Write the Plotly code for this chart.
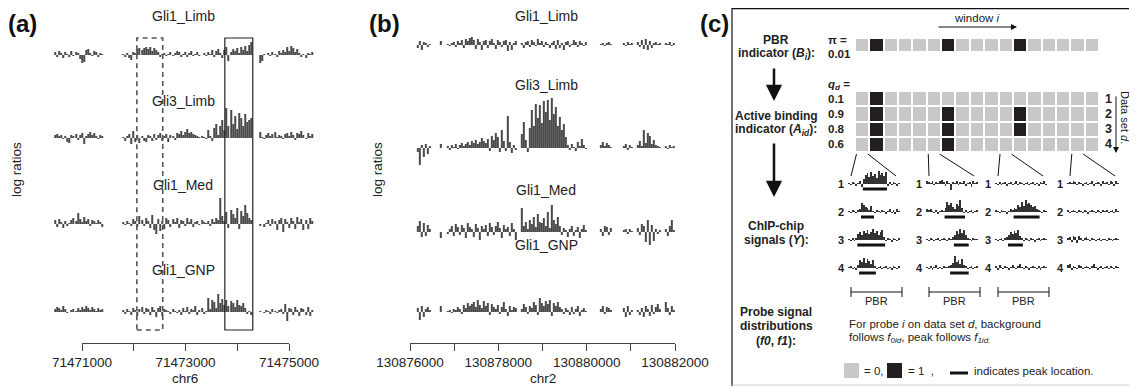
import numpy as np
import plotly.graph_objects as go

# reference canvas (design coordinates) and page offset of the plot div
W, H = 1137, 388
OFF = 8
FW, FH = W - OFF, H - OFF
FONT = "Liberation Sans, Arial, Helvetica, sans-serif"
TXT = "#222222"
BAR = "#4a4a4a"

# ====================== DATA ======================
TRACK_NAMES = ["Gli1_Limb", "Gli3_Limb", "Gli1_Med", "Gli1_GNP"]

# ---- panel (a): chr6 ----
A_SEGMENTS = [(71470480, 71471400), (71471795, 71474275), (71474445, 71475445)]
A_STEP = 40
A_TICKS = [71471000, 71472000, 71473000, 71474000, 71475000]
A_TICKTEXT = ["71471000", "", "71473000", "", "71475000"]
A_DASHED_REGION = [71472060, 71472560]
A_PEAK_REGION = [71473760, 71474300]

A_GLI1_LIMB = [3, -2, 4, 2, -3, 3, 1, -2, 4, -1, 3, 2, -4, -8, -7, 5, 6, 2, -1, 4, 3, -2, 2, 1,
               1, -2, 2, -3, -5, 3, 2, 6, 7, 5, 7, 8, 6, 8, 4, 7, 5, 3, -2,
               1, 2, -1, 1, 3, -1, 2, 4, 3, -2, 1, 3, -2, 2, 4, -1, 1, 3, -1, 0, 2, -1,
               3, 1, 5, -2, 4, 6, 2, -3, 5, 8, -6, 3, 6, 4, 7, 2, 8, 5, 9, 4, 10, 13,
               -8, -6, 1, 0, 2, -1, 3, 1, -2, 4, 2, 5, 3, 8, 4, 9, 7, 3, 6, 2, -2, 1, -3, 2, 1, 3]
A_GLI3_LIMB = [3, 4, 2, 3, -1, 2, -4, -5, 3, 2, 4, -2, 3, 5, -6, 2, 4, 6, 3, 5, 2, -1, 3, 2,
               1, -3, 2, 4, -6, 7, -4, 3, -5,
               2, -3, -4, 3, 2, -3, 4, -2, 3, 5, -3, 2, 4, -4, 3, 2, -2,
               5, 4, 7, 3, 6, 9, 5, 6, 4, 3, 2, 1, 2, 1, -1,
               8, 2, -3, 10, 14, 3, 12, 18, 8, 30, 12, 28, 14, 22, 9, 25, 20, 12, 24, 16, 18, 20,
               6, 1, -1, 3, 5, 2, 4, 6, 1, 3, 2, -1, 4, 5, 2, 6, 3, -2, 5, 4, 7, 3, -1, 5, 2, 4]
A_GLI1_MED = [4, -3, 5, 2, -4, 3, -2, 1, 4, 6, 3, 11, 5, 2, 7, 3, 5, -2, 4, 3, 1, 4, 2, -3,
              2, -1, 3, 1, -2, 5, 3, -3, 8, 4, -2, 6, 3,
              -4, 9, -6, -10, 5, -7, 3, -5, 6, 4, -3, 5, 2,
              6, -4, 4, 3, -2, 6, 2, 5, -3, 2, 3, -1, 4, 2, 1,
              3, -2, 5, 2, 6, 4, 26, 8, 3, 12, -4, 14, 10, 6, 16, -5, 13, 8, 19, 11, 6, 4,
              -2, 0, -3, 1, 4, -2, 5, 3, -6, 4, 6, -8, 5, 2, -4, 6, 3, -5, 7, 2, 5, -6, 4, -5, 6, 3]
A_GLI1_GNP = [3, 5, 4, 2, 6, 3, -1, 0, 2, 3, 1, 4, 2, 5, 3, 6, 4, 2, 5, 3, 1, 4, 2, 3,
              2, -2, 3, 1, -3, 4, 2, -4, 3, 5, -2, 4, 3, -3, 5, 2, -5, 4, 6, -4, 3,
              2, 1, -2, 3, 1, -1, 2, -3, 4, 1, 5, -2, 3, 2, 6, -3, 2, 4, -2, 1,
              14, 3, 12, 10, 4, 18, 9, 13, 7, 12, 6, 11, 9, 5, 12, 7, 6, 9, 4, -2, 1, -3,
              1, 0, -1, 2, 1, -2, 3, 1, -1, 2, 3, -2, 8, -9, 4, 3, -3, 5, 2, -4, 4, 3, -3, 5, -4, 2]

# ---- panel (b): chr2 ----
B_SEGMENTS = [(130876180, 130876450), (130876700, 130876700), (130876860, 130878390),
              (130878540, 130879980), (130880325, 130880550), (130880850, 130881030),
              (130881165, 130881660), (130881795, 130881975)]
B_STEP = 45
B_TICKS = [130876000, 130877000, 130878000, 130879000, 130880000, 130881000, 130882000]
B_TICKTEXT = ["130876000", "", "130878000", "", "130880000", "", "130882000"]

B_GLI1_LIMB = [-3, 4, -5, 3, 2, -2, 1,
               4,
               1, -1, 2, 3, -2, 4, 2, 5, -3, 6, 4, 7, 8, 5, -4, 6, 3, -5, 4, 5, -3, 4, 6, 2, -4, 5, 3, -2, 4, 5, -6, 3, -5, 2, 4,
               2, -3, 3, 4, -2, 5, 3, -1, 6, 2, 4, -2, 3, 1, -3, 2, 4, -4, 5, -3, 2, -5, 3, 4, -2, 1, 5, 3, -2, 4, 2, -1, 3,
               1, 2, -1, 2, 3, 1,
               2, -1, 3, 1, 2,
               3, -2, 5, -4, 6, -5, 4, -3, 2, 3, 1, 2,
               2, 1, 3, -1, 2]
B_GLI3_LIMB = [-4, -17, 3, -9, 4, -6, 2,
               4,
               2, -2, 3, 1, 4, -1, 3, 5, 2, 4, 6, 3, 7, 5, 8, 4, 6, 10, 7, 5, 9, -3, 12, 8, 15, 11, -4, 18, 7, -3, 32, 6, -5, 3, -2,
               14, 26, 8, -4, 20, 38, 22, 44, 30, 43, 25, 47, 36, 48, 28, 50, 34, 41, 22, 31, 18, 24, 11, 3, -2, 4, 1, -3, 6, 2, 9, 3, -1,
               3, 6, 2, 5, 3, 1,
               2, 4, -2, 3, 1,
               3, 7, 2, 18, 5, 15, 12, 4, 8, 3, 2, 1,
               2, -1, 3, 1, 2]
B_GLI1_MED = [6, 11, -5, 9, -4, 7, 3,
              -6,
              -2, 3, 6, -4, 8, 5, -3, 7, 4, -6, 9, 5, 3, -5, 8, 4, -8, 6, 3, 7, -4, 9, 5, -3, 6, 10, 4, -6, 7, 3, 5, -4, 9, 3, -8,
              24, 6, 10, 3, 12, 8, 15, 5, 18, 10, 9, 14, 6, 20, 4, 27, 12, 8, 15, 6, -3, 4, 2, -5, 3, 6, -4, 2, 5, -6, 3, 7, 2,
              3, -4, 6, 5, -3, 4,
              2, 3, -2, 3, 1,
              4, -3, 8, 6, -10, 12, -13, 7, -9, 3, -2, 2,
              3, -4, 6, 12, 2]
B_GLI1_GNP = [4, -8, 6, -5, 3, 5, 2,
              6,
              1, 2, -1, 3, 2, 5, 3, -2, 7, 4, 9, 6, 8, 10, 5, 12, 7, 4, 11, 6, 9, -3, 8, 5, 3, 7, -2, 5, 10, 3, -4, 6, 2, 5, 4,
              3, 8, 5, -2, 6, 4, 10, 7, -3, 14, 9, 6, 11, 8, 12, -4, 9, 6, 10, 5, 3, -2, 4, 2, -3, 5, -2, 3, 6, -4, 2, 4, 1,
              3, 6, -2, 5, 4, 2,
              4, -5, 6, -3, 2,
              2, -3, 4, -5, 6, 3, -4, 7, -2, 5, 8, 3,
              10, 4, -3, 6, 2]

# ---- panel (c): indicators ----
PI_VALUE = "0.01"
QD_VALUES = ["0.1", "0.9", "0.8", "0.6"]
PBR_INDICATOR = [0, 1, 0, 0, 0, 0, 1, 0, 0, 0, 0, 1, 0, 0, 0, 0, 0]
ACTIVE_INDICATOR = [[0, 1, 0, 0, 0, 0, 0, 0, 0, 0, 0, 0, 0, 0, 0, 0, 0],
                    [0, 1, 0, 0, 0, 0, 1, 0, 0, 0, 0, 1, 0, 0, 0, 0, 0],
                    [0, 1, 0, 0, 0, 0, 1, 0, 0, 0, 0, 1, 0, 0, 0, 0, 0],
                    [0, 1, 0, 0, 0, 0, 1, 0, 0, 0, 0, 0, 0, 0, 0, 0, 0]]
ZOOM_WINDOWS = [1, 6, 11, 16]

# mini ChIP-chip signals, one list per window, rows = data sets 1..4
MINI_W1 = [[1, -1, 2, 1, -2, 1, 3, -3, 5, 9, 11, 7, 12, 8, 10, 6, 13, 9, 11, 8, 12, -2, 2, -1, 2, 1, -2, 1],
           [1, -1, 2, 1, -1, 2, 3, 9, 7, 5, 4, 2, 6, 1, -1, 2, 1, -1, 2, 1, -2, 1, 3, -1, 2, -2, 3, 1],
           [1, -1, 2, -1, 2, 6, 8, 5, 9, 7, 10, 6, 8, 11, 7, 9, 5, 8, 10, 3, -1, 2, 1, -2, 2, 1, -1, 2],
           [1, 2, -1, 1, -2, 3, 8, 6, 10, 5, 9, 7, 4, 8, 2, -1, 1, 2, -1, 1, 2, -1, 1, -2, 2, 1, -1, 2]]
MINI_W6 = [[3, 2, 1, 3, -1, 2, 1, 3, 4, 2, -2, 3, 1, -6, 2, 1, 3, -1, 2, 1, 3, -2, 1, 2, -3, 3, 1, 2],
           [3, 2, 3, 1, -1, 2, -2, 1, 2, 1, 4, 10, 7, 9, 5, 3, 8, 6, 12, 4, -1, 2, -1, 1, 2, -1, 1, 2],
           [1, -1, 2, 1, -1, 1, 2, -1, 1, 2, 1, -1, 2, 1, 3, 5, 9, 6, 11, 7, 10, 5, 2, 1, -1, 2, 1, 1],
           [1, -1, 2, -2, 1, 3, -1, 1, -1, 2, 1, 1, 2, 3, 5, 12, 6, 8, 4, 9, 3, 2, -1, 1, 2, -1, 1, 2]]
MINI_W11 = [[1, -1, 2, -1, 1, 2, -2, 1, 2, -1, 1, 3, -1, 2, 1, -1, 1, 2, -1, 1, 2, -1, 1, -2, 2, 1, 3, -1],
            [2, 1, -1, 2, 1, 1, -2, 1, 3, 2, 4, 3, 7, 5, 10, 6, 12, 8, 9, 7, 5, 6, 3, 2, 1, -1, 2, 1],
            [1, -1, 1, 2, -1, 2, 3, 5, 8, 6, 9, 7, 10, 4, 2, -1, 2, 1, -1, 2, 1, -2, 1, 2, -1, 1, 2, 1],
            [2, -2, 3, 1, -1, 2, 1, -2, 1, 3, 1, -1, 2, 4, 1, -1, 2, 1, -2, 1, 2, 1, -1, 2, -2, 1, 2, 1]]
MINI_W16 = [[1, 2, 1, 3, 2, -1, 2, 1, -2, 1, 2, -1, 1, 3, -2, 1, 2, 1, -2, 3, 1, 2, -1, 3, 2, -2, 3, 1],
            [2, -1, 1, 2, 1, -1, 2, 1, -1, 2, 1, -2, 1, 2, 1, -1, 2, 1, -1, 2, 1, 2, -1, 1, 2, -1, 3, 1],
            [2, 3, -2, 4, 3, -3, 4, 2, -1, 2, 3, 1, -1, 2, 1, -1, 1, 2, -1, 1, 1, -1, 2, 1, -1, 1, 2, 1],
            [3, 4, -2, 2, 1, -1, 3, 2, -1, 1, 2, 1, -1, 2, 4, 1, -2, 1, 2, -1, 1, 2, -1, 2, 1, -1, 2, 1]]
# peak location (first probe, last probe) per window / data set, None = no peak
PEAKS_W1 = [(8, 20), (7, 13), (5, 19), (6, 14)]
PEAKS_W6 = [None, (10, 20), (15, 22), (13, 22)]
PEAKS_W11 = [None, (10, 23), (7, 14), None]
PEAKS_W16 = [None, None, None, None]

# ====================== FIGURE ======================
layout = dict(width=FW, height=FH, template="none",
              margin=dict(l=0, r=0, t=0, b=0, pad=0, autoexpand=False),
              paper_bgcolor="white", plot_bgcolor="rgba(0,0,0,0)", showlegend=False,
              font=dict(family=FONT, color=TXT), annotations=[], shapes=[])
traces = []
_n = [0]


def fx(xpx):
    return (xpx - OFF) / FW


def fy(ypx):
    return 1 - (ypx - OFF) / FH


def P(xpx, ypx):
    return fx(xpx), fy(ypx)


def new_axes(x0, x1, xrange, ytop, ybot, yrange, xextra=None, yextra=None):
    _n[0] += 1
    n = _n[0]
    xr, yr = ("x", "y") if n == 1 else (f"x{n}", f"y{n}")
    xk, yk = ("xaxis", "yaxis") if n == 1 else (f"xaxis{n}", f"yaxis{n}")
    xa = dict(domain=[fx(x0), fx(x1)], range=xrange, anchor=yr, visible=False, automargin=False,
              showgrid=False, zeroline=False, fixedrange=True)
    ya = dict(domain=[fy(ybot), fy(ytop)], range=yrange, anchor=xr, visible=False, automargin=False,
              showgrid=False, zeroline=False, fixedrange=True)
    if xextra:
        xa.update(xextra)
    if yextra:
        ya.update(yextra)
    layout[xk] = xa
    layout[yk] = ya
    return xr, yr


def text(xpx, ypx, s, size=13, xanchor="center", angle=0, color=TXT, yanchor="middle"):
    x, y = P(xpx, ypx)
    layout["annotations"].append(dict(x=x, y=y, xref="paper", yref="paper", text=s, showarrow=False,
                                      font=dict(size=size, color=color, family=FONT), borderpad=0,
                                      xanchor=xanchor, yanchor=yanchor, textangle=angle))


def line(x0, y0, x1, y1, color="#111111", width=1, dash=None):
    a, b = P(x0, y0)
    c, d = P(x1, y1)
    ln = dict(color=color, width=width)
    if dash:
        ln["dash"] = dash
    layout["shapes"].append(dict(type="line", xref="paper", yref="paper", x0=a, y0=b, x1=c, y1=d, line=ln))


def arrow(hx, hy, tx, ty, width=1, size=1, color="#111111"):
    x, y = P(hx, hy)
    layout["annotations"].append(dict(x=x, y=y, xref="paper", yref="paper", text="", showarrow=True,
                                      ax=tx - hx, ay=ty - hy, arrowhead=2, arrowwidth=width,
                                      arrowsize=size, arrowcolor=color, standoff=0, startstandoff=0))


def positions(segments, step):
    out = []
    for s, e in segments:
        out.extend(np.arange(s, e + 1, step).tolist())
    return np.array(out)


def genomic_panel(tracks, segs, step, axis_px, axis_vals, ticks, ticktext, baselines, title_pos,
                  chrom, chrom_pos):
    px0, px1 = axis_px
    v0, v1 = axis_vals
    scale = (px1 - px0) / (v1 - v0)
    full = [v0 - 1000, v1 + 1000]
    dom = [px0 - 1000 * scale, px1 + 1000 * scale]
    pos = positions(segs, step)
    first_x = None
    for vals, base, (tx, ty), name in zip(tracks, baselines, title_pos, TRACK_NAMES):
        assert len(vals) == len(pos), (name, len(vals), len(pos))
        up = min(55, base - OFF)
        xr, yr = new_axes(dom[0], dom[1], full, base - up, base + 20, [-20, up])
        if first_x is None:
            first_x = xr
        traces.append(go.Bar(x=pos, y=vals, width=step * 0.5, xaxis=xr, yaxis=yr,
                             marker=dict(color=BAR, line=dict(width=0)), hoverinfo="skip"))
        text(tx, ty, name, size=14)
    # genomic axis
    xr, yr = new_axes(px0, px1, [v0, v1], 340, 343, [0, 1],
                      xextra=dict(visible=True, showline=True, linecolor="#444444", linewidth=1,
                                  ticks="outside", ticklen=7, tickcolor="#444444", tickwidth=1,
                                  tickvals=ticks, ticktext=ticktext,
                                  tickfont=dict(size=13.5, color=TXT, family=FONT)))
    traces.append(go.Scatter(x=[v0], y=[0.5], mode="markers", marker=dict(opacity=0),
                             xaxis=xr, yaxis=yr, hoverinfo="skip"))
    text(chrom_pos[0], chrom_pos[1], chrom, size=13.5)
    return first_x


# ---------- panel (a) ----------
ax_a = genomic_panel([A_GLI1_LIMB, A_GLI3_LIMB, A_GLI1_MED, A_GLI1_GNP], A_SEGMENTS, A_STEP,
                     (82, 289), (71471000, 71475000), A_TICKS, A_TICKTEXT,
                     [55, 138, 224, 312], [(183, 16), (183, 101), (183, 185), (183, 270)],
                     "chr6", (185, 378))
y_top, y_bot = fy(38), fy(330)
layout["shapes"].append(dict(type="rect", xref=ax_a, yref="paper", x0=A_DASHED_REGION[0],
                             x1=A_DASHED_REGION[1], y0=y_bot, y1=y_top,
                             line=dict(color="#555555", width=1.6, dash="5px,4px")))
layout["shapes"].append(dict(type="rect", xref=ax_a, yref="paper", x0=A_PEAK_REGION[0],
                             x1=A_PEAK_REGION[1], y0=y_bot, y1=y_top,
                             line=dict(color="#222222", width=1.2)))
text(22, 9, "<b>(a)</b>", size=24, color="#111111", yanchor="top")
text(16, 170, "log ratios", size=13.5, angle=-90)

# ---------- panel (b) ----------
genomic_panel([B_GLI1_LIMB, B_GLI3_LIMB, B_GLI1_MED, B_GLI1_GNP], B_SEGMENTS, B_STEP,
              (410, 675), (130876000, 130882000), B_TICKS, B_TICKTEXT,
              [45, 148, 232, 312], [(546, 16), (546, 85), (546, 190), (546, 245)],
              "chr2", (543, 378))
text(384, 9, "<b>(b)</b>", size=24, color="#111111", yanchor="top")
text(377, 170, "log ratios", size=13.5, angle=-90)

# ---------- panel (c) ----------
text(714, 9, "<b>(c)</b>", size=24, color="#111111", yanchor="top")
line(732, 8.6, 1137, 8.6, color="#111111", width=1.2)
line(732, 8, 732, 386, color="#111111", width=1.2)
line(732, 385, 1137, 385, color="#cccccc", width=1)

LX = 776
text(LX, 40, "<b>PBR</b>", size=12)
text(LX, 54, "<b>indicator (<i>B<sub>i</sub></i>):</b>", size=12)
arrow(774, 101, 774, 67, width=2.5, size=1.3)
text(LX, 116, "<b>Active binding</b>", size=12)
text(LX, 130, "<b>indicator (<i>A<sub>id</sub></i>):</b>", size=12)
arrow(774, 197, 774, 142, width=2.5, size=1.3)
text(LX, 226, "<b>ChIP-chip</b>", size=12)
text(LX, 240, "<b>signals (<i>Y</i>):</b>", size=12)
text(LX, 312, "<b>Probe signal</b>", size=12)
text(LX, 326, "<b>distributions</b>", size=12)
text(LX, 341, "<b>(<i>f0</i>, <i>f1</i>):</b>", size=12)

# window arrow
text(977, 18, "window <i>i</i>", size=11.5)
arrow(1017, 27, 937, 27, width=1, size=1.2)

GRAY, BLACK = "#c8c8c8", "#231f20"
CS = [[0, GRAY], [1, BLACK]]
GX0, GX1 = 855, 1099
NCOL = len(PBR_INDICATOR)
xr, yr = new_axes(GX0, GX1, [-0.5, NCOL - 0.5], 38, 52, [-0.5, 0.5])
traces.append(go.Heatmap(z=[PBR_INDICATOR], colorscale=CS, zmin=0, zmax=1, showscale=False,
                         xgap=2, ygap=2, xaxis=xr, yaxis=yr, hoverinfo="skip"))
text(827, 40, "<b>π =</b>", size=11.5, xanchor="left")
text(827, 54, "<b>" + PI_VALUE + "</b>", size=11.5, xanchor="left")

GT, GB = 91, 152
xr, yr = new_axes(GX0, GX1, [-0.5, NCOL - 0.5], GT, GB, [len(ACTIVE_INDICATOR) - 0.5, -0.5])
traces.append(go.Heatmap(z=ACTIVE_INDICATOR, colorscale=CS, zmin=0, zmax=1, showscale=False,
                         xgap=2, ygap=2, xaxis=xr, yaxis=yr, hoverinfo="skip"))
text(827, 85, "<b><i>q<sub>d</sub></i> =</b>", size=11.5, xanchor="left")
rowh = (GB - GT) / len(QD_VALUES)
for k, q in enumerate(QD_VALUES):
    yc = GT + rowh * (k + 0.5)
    text(827, yc, "<b>" + q + "</b>", size=11.5, xanchor="left")
    text(1108, yc, "<b>%d</b>" % (k + 1), size=12.5)
arrow(1116, 153, 1116, 95, width=1, size=1.2)
text(1125, 117, "Data set <i>d</i>.", size=11, angle=90)

# mini signals
MINI = [MINI_W1, MINI_W6, MINI_W11, MINI_W16]
PEAKS = [PEAKS_W1, PEAKS_W6, PEAKS_W11, PEAKS_W16]
MX0 = [848, 926, 995, 1067]
MW = 52
ROWY = [184, 212, 240, 268]
pitch = (GX1 - GX0) / NCOL
for c, win in enumerate(ZOOM_WINDOWS):
    cl = GX0 + pitch * (win - 1) + 1.5
    cr = GX0 + pitch * win - 1.5
    line(cl, 154, MX0[c] + 3, 176, width=1)
    line(cr, 154, MX0[c] + 48, 176, width=1)
    for r in range(4):
        vals = MINI[c][r]
        assert len(vals) == 28
        xr, yr = new_axes(MX0[c], MX0[c] + MW, [-0.5, len(vals) - 0.5], ROWY[r] - 15, ROWY[r] + 8, [-8, 15])
        traces.append(go.Bar(x=list(range(len(vals))), y=vals, width=0.5, xaxis=xr, yaxis=yr,
                             marker=dict(color="#333333", line=dict(width=0)), hoverinfo="skip"))
        pk = PEAKS[c][r]
        if pk is not None:
            traces.append(go.Scatter(x=[pk[0] - 0.5, pk[1] + 0.5], y=[-5, -5], mode="lines",
                                     line=dict(color="#111111", width=3), xaxis=xr, yaxis=yr,
                                     hoverinfo="skip"))
        text(MX0[c] - 7, ROWY[r], "<b>%d</b>" % (r + 1), size=11)

# PBR brackets under the three windows with a PBR
for c in range(3):
    a, b = MX0[c] + 3, MX0[c] + 54
    line(a, 292, b, 292, width=1)
    line(a, 287, a, 297, width=1)
    line(b, 287, b, 297, width=1)
    text((a + b) / 2, 301, "PBR", size=11)

text(848, 324, "For probe <i>i</i> on data set <i>d</i>, background", size=11.5, xanchor="left")
text(848, 338, "follows <i>f<sub>0id</sub></i>, peak follows <i>f<sub>1id.</sub></i>", size=11.5,
     xanchor="left")

# legend
for (x0, col) in [(844, GRAY), (887, BLACK)]:
    a, b = P(x0, 363)
    c2, d = P(x0 + 15, 378)
    layout["shapes"].append(dict(type="rect", xref="paper", yref="paper", x0=a, y0=d, x1=c2, y1=b,
                                 fillcolor=col, line=dict(width=0)))
text(863, 371, "= 0,", size=11.5, xanchor="left")
text(907, 371, "= 1  ,", size=11.5, xanchor="left")
line(950, 373, 968, 373, width=3)
text(973, 371, "indicates peak location.", size=11.5, xanchor="left")

fig = go.Figure(data=traces, layout=layout)
fig.write_html("out.html")
